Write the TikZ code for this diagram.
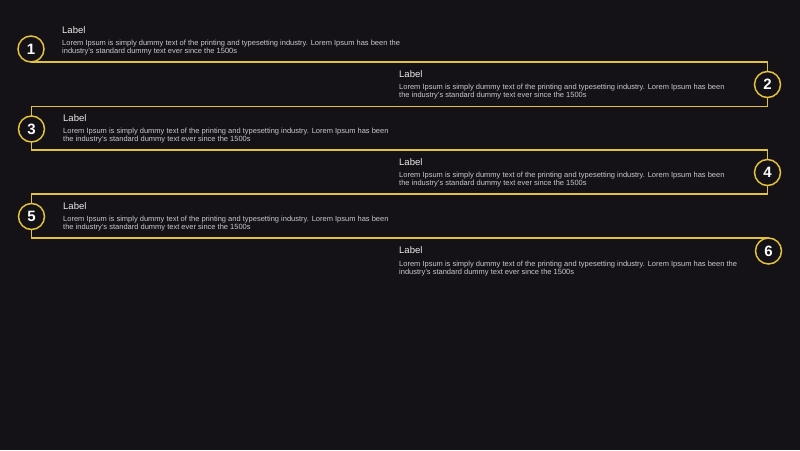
\documentclass[tikz,border=0pt]{standalone}
\usepackage{fontspec}
\setmainfont{Liberation Sans}
\definecolor{bg}{HTML}{141217}
\definecolor{gold}{HTML}{E2C23C}
\definecolor{ink}{HTML}{C9C9CC}
\newcommand{\bodyA}{Lorem Ipsum is simply dummy text of the printing and typesetting industry. Lorem Ipsum has been the\\industry's standard dummy text ever since the 1500s}
\newcommand{\bodyB}{Lorem Ipsum is simply dummy text of the printing and typesetting industry. Lorem Ipsum has been\\the industry's standard dummy text ever since the 1500s}
\begin{document}
\begin{tikzpicture}[x=1pt, y=-1pt,
  stepnum/.style={circle, draw=gold, line width=1.5pt, fill=bg, minimum size=26pt, inner sep=0pt, text=white, font=\bfseries\fontsize{15}{15}\selectfont},
  title/.style={anchor=base west, inner sep=0pt, text=white!92!black, font=\fontsize{9.5}{10}\selectfont},
  body/.style={anchor=base west, inner sep=0pt, align=left, text=ink, font=\fontsize{7.5}{8.6}\selectfont},
  track/.style={draw=gold, line width=1.5pt}]
\fill[bg] (0,0) rectangle (800,450);

% step centres
\foreach \n/\x/\y in {1/31/49,2/767.5/84.5,3/31.5/129,4/767.5/172.5,5/31.5/216.5,6/768.5/251}
{
    \coordinate (p\n) at (\x,\y);
}

% zigzag track (yshift is upward)
\draw[track] ([yshift=-13pt]p1) -| ([yshift=13pt]p2);
\draw[track] ([yshift=-13pt]p2) -- ++(0,9) -| ([yshift=13pt]p3);
\draw[track] ([yshift=-13pt]p3) -- ++(0,8) -| ([yshift=13pt]p4);
\draw[track] ([yshift=-13pt]p4) -- ++(0,8.5) -| ([yshift=13pt]p5);
\draw[track] ([yshift=-13pt]p5) |- ([yshift=13pt]p6);

\foreach \n in {1,...,6}
{
    \node[stepnum] (c\n) at (p\n) {\n};
}

% labels and texts (body base = second line)
\node[title] (l1) at (62,33.5) {Label};
\node[body] (t1) at (62,53.6) {\bodyA};
\node[title] (l2) at (399,77.5) {Label};
\node[body] (t2) at (399,97.6) {\bodyB};
\node[title] (l3) at (63,121.5) {Label};
\node[body] (t3) at (63,141.6) {\bodyB};
\node[title] (l4) at (399,165.5) {Label};
\node[body] (t4) at (399,185.6) {\bodyB};
\node[title] (l5) at (63,209.5) {Label};
\node[body] (t5) at (63,229.6) {\bodyB};
\node[title] (l6) at (399,253.5) {Label};
\node[body] (t6) at (399,274.6) {\bodyA};

\end{tikzpicture}
\end{document}
